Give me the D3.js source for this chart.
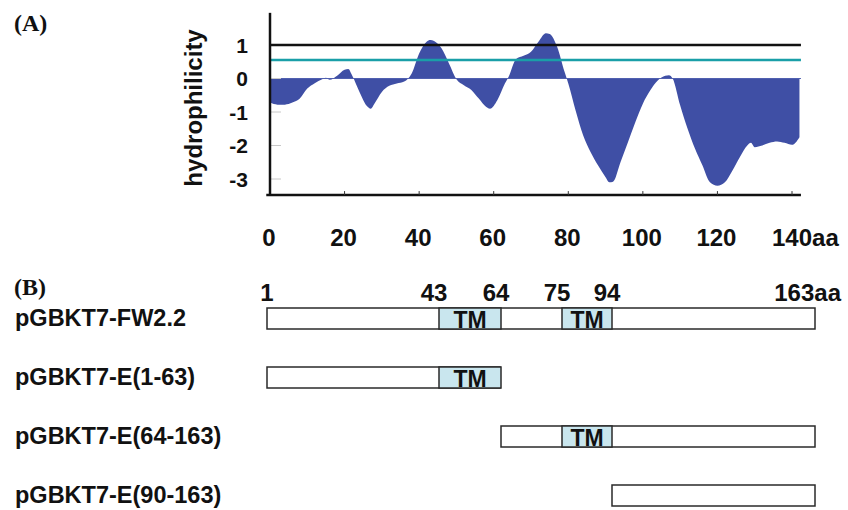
<!DOCTYPE html>
<html><head><meta charset="utf-8">
<script src="https://cdn.jsdelivr.net/npm/d3@7"></script>
<style>
html,body{margin:0;padding:0;background:#fff;}
svg{display:block;}
text{font-family:"Liberation Sans",Arial,Helvetica,sans-serif;font-weight:bold;fill:#111;}
.serif{font-family:"Liberation Serif","Times New Roman",serif;}
</style></head>
<body><svg id="c" width="848" height="510"></svg>
<script>
// ---- Panel A data: hydrophilicity profile ----
const residue = [0,2,4,6,8,10,12,14,15,16,18,20,21,22,24,26,27,28,30,32,34,36,38,40,42,43,44,46,48,50,52,54,56,58,59,61,63,64,66,68,70,72,74,75,77,79,80,82,84,86,88,90,91,92,94,96,98,100,102,104,106,107,108,110,112,114,116,118,120,122,124,126,128,129,130,132,134,136,138,140,142];
const hydro   = [-0.72,-0.78,-0.78,-0.72,-0.60,-0.30,-0.14,-0.02,0.02,-0.04,0.08,0.26,0.28,0.10,-0.40,-0.82,-0.90,-0.75,-0.40,-0.22,-0.15,-0.09,0.15,0.75,1.10,1.15,1.12,0.90,0.45,-0.02,-0.20,-0.34,-0.60,-0.85,-0.90,-0.64,-0.15,0.05,0.58,0.68,0.80,1.10,1.35,1.33,0.95,0.20,-0.15,-0.97,-1.70,-2.20,-2.60,-2.95,-3.10,-3.08,-2.50,-1.90,-1.30,-0.75,-0.35,-0.06,0.08,0.10,0.00,-0.80,-1.50,-2.10,-2.60,-3.10,-3.20,-3.10,-2.75,-2.35,-2.00,-1.92,-2.05,-2.00,-1.92,-1.88,-1.92,-1.98,-1.75];
const xTicks = [0,20,40,60,80,100,120,140];
const yTicks = [1,0,-1,-2,-3];
const thresholdBlack = 1.0;
const thresholdTeal = 0.55;
const xExtent = [-1, 142.4];
const yExtent = [-3.48, 1.96];

// ---- Panel B data: constructs ----
const breakpoints = [1,43,64,75,94,163];
const tmRegions = [[43,64],[75,94]];
const constructs = ["pGBKT7-FW2.2","pGBKT7-E(1-63)","pGBKT7-E(64-163)","pGBKT7-E(90-163)"];
const consStart = [1,1,64,90];
const consEnd   = [163,63,163,163];

const svg = d3.select("#c");

// ================= Panel A =================
const xA = d3.scaleLinear().domain([0,140]).range([270,792]);
const yA = d3.scaleLinear().domain([-3,1]).range([179,45]);
const pts = residue.map((r,i)=>({r, v:hydro[i]}));

svg.append("text").attr("class","serif").attr("x",14).attr("y",31)
  .style("font-size","24px").text("(A)");

svg.append("path").datum(pts)
  .attr("fill","#3f4fa5")
  .attr("d", d3.area().x(d=>xA(d.r)).y0(yA(0)).y1(d=>yA(d.v)).curve(d3.curveMonotoneX));
svg.append("line").attr("x1",xA(0)).attr("x2",xA(xExtent[1])).attr("y1",yA(0)).attr("y2",yA(0))
  .attr("stroke","#5060b0").attr("stroke-width",1);

svg.append("g").selectAll("line").data(yTicks).join("line")
  .attr("x1",xA(0)).attr("x2",xA(0)+11).attr("y1",d=>yA(d)).attr("y2",d=>yA(d))
  .attr("stroke","#c8c8c8").attr("stroke-width",1);

svg.append("line").attr("x1",xA(0)).attr("x2",xA(xExtent[1])).attr("y1",yA(thresholdBlack)).attr("y2",yA(thresholdBlack))
  .attr("stroke","#111").attr("stroke-width",2.5);
svg.append("line").attr("x1",xA(0)).attr("x2",xA(xExtent[1])).attr("y1",yA(thresholdTeal)).attr("y2",yA(thresholdTeal))
  .attr("stroke","#1a9fa8").attr("stroke-width",2.5);

svg.append("line").attr("x1",xA(0)).attr("x2",xA(0)).attr("y1",yA(yExtent[1])).attr("y2",yA(yExtent[0]))
  .attr("stroke","#111").attr("stroke-width",2.5);
svg.append("line").attr("x1",xA(xExtent[0])).attr("x2",xA(xExtent[1])).attr("y1",yA(yExtent[0])).attr("y2",yA(yExtent[0]))
  .attr("stroke","#111").attr("stroke-width",2.5);
svg.append("g").selectAll("line").data(xTicks.slice(1)).join("line")
  .attr("x1",d=>xA(d)).attr("x2",d=>xA(d)).attr("y1",yA(yExtent[0])).attr("y2",yA(yExtent[0])-4)
  .attr("stroke","#333").attr("stroke-width",1);

svg.append("g").selectAll("text").data(yTicks).join("text")
  .attr("x",248).attr("y",d=>yA(d)).attr("dy","0.38em").attr("text-anchor","end")
  .style("font-size","21px").text(d=>d);

svg.append("text").attr("transform",`translate(202,${(yA(yExtent[0])+yA(yExtent[1]))/2+4}) rotate(-90)`)
  .attr("text-anchor","middle").style("font-size","24px").text("hydrophilicity");

const xl = svg.append("g").selectAll("text").data(xTicks).join("text")
  .attr("y",246).style("font-size","24px");
xl.each(function(d,i){
  const t = d3.select(this);
  if(i===xTicks.length-1){
    t.attr("x",xA(d)-20).attr("text-anchor","start").text(d+"aa");
  } else {
    t.attr("x",xA(d)-1).attr("text-anchor","middle").text(d);
  }
});

// ================= Panel B =================
const xB = d3.scaleLinear()
  .domain([1,43,63,64,75,90,94,163])
  .range([267,439,500,501,562,612,612,815]);
const rowY = d3.scaleLinear().domain([0,3]).range([308,485]);
const boxH = 21;

svg.append("text").attr("class","serif").attr("x",14).attr("y",295)
  .style("font-size","24px").text("(B)");

svg.append("g").selectAll("text").data(breakpoints).join("text")
  .attr("y",301).style("font-size","24px")
  .each(function(d,i){
    const t=d3.select(this);
    if(i===breakpoints.length-1){ t.attr("x",xB(d)+26).attr("text-anchor","end").text(d+"aa"); }
    else if(i===0){ t.attr("x",xB(d)).attr("text-anchor","middle").text(d); }
    else { t.attr("x",xB(d)-5).attr("text-anchor","middle").text(d); }
  });

const rows = svg.append("g").selectAll("g").data(constructs).join("g");
rows.append("text").attr("x",15).attr("y",(d,i)=>rowY(i)+18).style("font-size","23.5px").text(d=>d);
rows.append("rect")
  .attr("x",(d,i)=>xB(consStart[i])).attr("y",(d,i)=>rowY(i))
  .attr("width",(d,i)=>xB(consEnd[i])-xB(consStart[i])).attr("height",boxH)
  .attr("fill","#fff").attr("stroke","#2a2a2a").attr("stroke-width",1.5);

rows.each(function(d,i){
  const g=d3.select(this);
  tmRegions.forEach(([a,b])=>{
    if(a>=consStart[i] && b<=consEnd[i]+1){
      g.append("rect").attr("x",xB(a)).attr("y",rowY(i)).attr("width",xB(b)-xB(a)).attr("height",boxH)
        .attr("fill","#c9e6ee").attr("stroke","#2a2a2a").attr("stroke-width",1.5);
      g.append("text").attr("x",(xB(a)+xB(b))/2).attr("y",rowY(i)+19.5).attr("text-anchor","middle")
        .style("font-size","23px").text("TM");
    }
  });
});
</script></body></html>
